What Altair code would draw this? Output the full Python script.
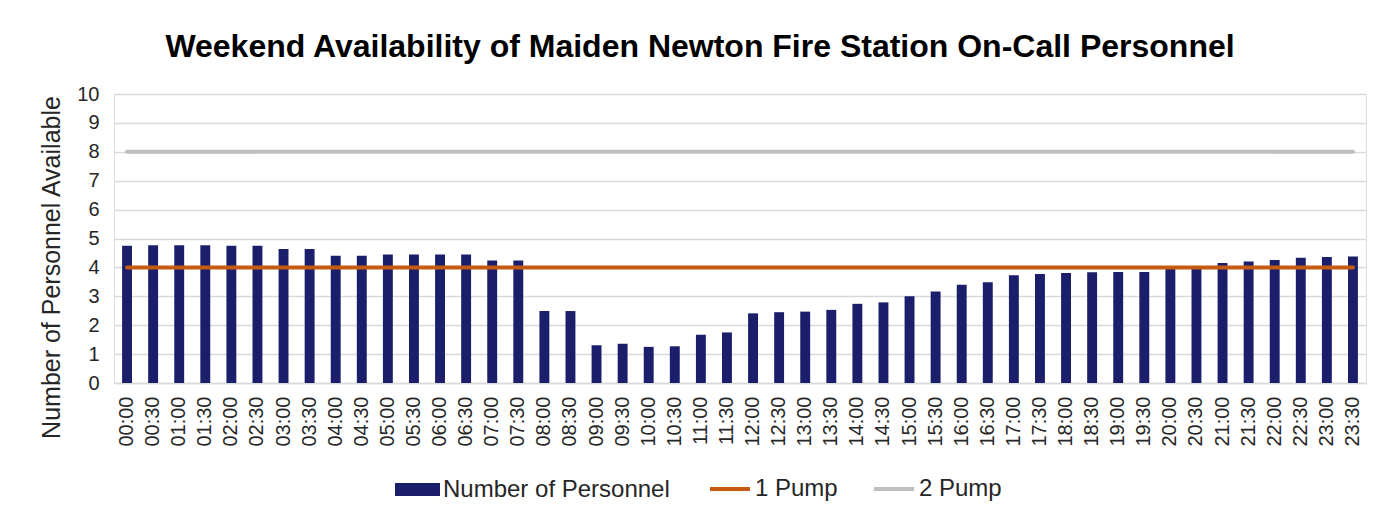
import altair as alt
import pandas as pd

times = ["00:00", "00:30", "01:00", "01:30", "02:00", "02:30", "03:00", "03:30",
         "04:00", "04:30", "05:00", "05:30", "06:00", "06:30", "07:00", "07:30",
         "08:00", "08:30", "09:00", "09:30", "10:00", "10:30", "11:00", "11:30",
         "12:00", "12:30", "13:00", "13:30", "14:00", "14:30", "15:00", "15:30",
         "16:00", "16:30", "17:00", "17:30", "18:00", "18:30", "19:00", "19:30",
         "20:00", "20:30", "21:00", "21:30", "22:00", "22:30", "23:00", "23:30"]

personnel = [4.75, 4.77, 4.77, 4.77, 4.75, 4.75, 4.64, 4.64,
             4.40, 4.40, 4.45, 4.45, 4.45, 4.45, 4.24, 4.24,
             2.49, 2.49, 1.31, 1.36, 1.25, 1.27, 1.67, 1.75,
             2.41, 2.45, 2.47, 2.53, 2.74, 2.79, 3.00, 3.17,
             3.40, 3.49, 3.73, 3.77, 3.81, 3.83, 3.84, 3.84,
             3.98, 4.00, 4.15, 4.20, 4.26, 4.33, 4.36, 4.38]

pump_names = ["1 Pump", "2 Pump"]
pump_levels = [4, 8]
pump_colors = ["#c55a11", "#bfbfbf"]
bar_name = "Number of Personnel"
bar_color = "#1b1f6b"

FONT = "Liberation Sans"
TEXT = "#262626"

bars_df = pd.DataFrame({"time": times, "value": personnel, "series": bar_name})
lines_df = pd.DataFrame([
    {"time": t, "value": lvl, "series": name}
    for name, lvl in zip(pump_names, pump_levels) for t in times
])

legend_common = dict(
    title=None,
    orient="none",
    direction="horizontal",
    labelFont=FONT,
    labelFontSize=24,
    labelColor=TEXT,
    labelOffset=3,
    labelLimit=500,
    symbolOpacity=1,
)

fill = alt.Fill(
    "series:N",
    scale=alt.Scale(domain=[bar_name], range=[bar_color]),
    legend=alt.Legend(
        legendX=281, legendY=373,
        symbolType="M-1,-0.29H1V0.29H-1Z",
        symbolSize=2025,
        symbolStrokeWidth=0,
        **legend_common,
    ),
)

stroke = alt.Stroke(
    "series:N",
    scale=alt.Scale(domain=pump_names, range=pump_colors),
    legend=alt.Legend(
        legendX=594, legendY=373,
        symbolType="stroke",
        symbolSize=1600,
        symbolStrokeWidth=4,
        columnPadding=28,
        **legend_common,
    ),
)

x = alt.X(
    "time:N",
    sort=times,
    scale=alt.Scale(paddingInner=0.62, paddingOuter=0.31),
    axis=alt.Axis(
        title=None,
        labelAngle=-90,
        labelFont=FONT,
        labelFontSize=20,
        labelColor=TEXT,
        labelPadding=13,
        ticks=False,
        domain=True,
        domainColor="#d9d9d9",
        domainWidth=1.5,
        grid=False,
    ),
)

y = alt.Y(
    "value:Q",
    scale=alt.Scale(domain=[0, 10], nice=False),
    axis=alt.Axis(
        title="Number of Personnel Available",
        titleFont=FONT,
        titleFontSize=25,
        titleFontWeight="normal",
        titleColor=TEXT,
        titlePadding=12,
        titleY=173,
        values=list(range(0, 11)),
        labelFont=FONT,
        labelFontSize=20,
        labelColor=TEXT,
        labelPadding=15,
        ticks=False,
        domain=False,
        grid=True,
        gridColor="#d9d9d9",
        gridWidth=1.5,
    ),
)

bars = alt.Chart(bars_df).mark_bar().encode(x=x, y=y, fill=fill)
lines = alt.Chart(lines_df).mark_line(strokeWidth=4, strokeCap="round").encode(
    x=x, y=y, stroke=stroke, detail="series:N"
)

chart = alt.layer(bars, lines).properties(
    width=1252,
    height=289,
    autosize=alt.AutoSizeParams(type="none"),
    padding={"left": 106, "top": 86, "right": 25, "bottom": 132},
    title=alt.TitleParams(
        "Weekend Availability of Maiden Newton Fire Station On-Call Personnel",
        font=FONT,
        fontSize=32,
        fontWeight="bold",
        color="#000000",
        anchor="middle",
        dx=-40,
        offset=20,
    ),
).configure_view(stroke=None).configure(background="white")

chart.save("out.html", embed_options={"renderer": "svg", "actions": False})
